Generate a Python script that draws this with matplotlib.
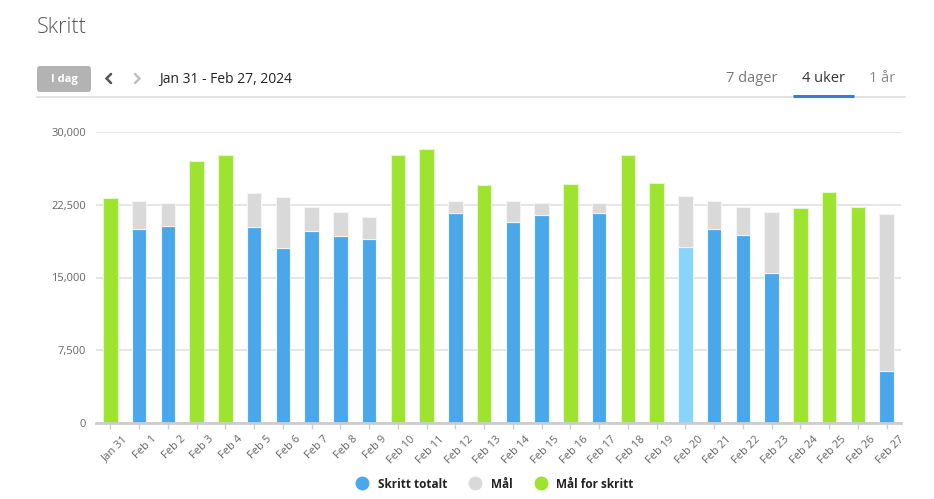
import matplotlib

matplotlib.use("Agg")
import matplotlib.pyplot as plt
import matplotlib.transforms as mtransforms
from matplotlib.lines import Line2D
from matplotlib.patches import FancyBboxPatch
import numpy as np

plt.rcParams["font.family"] = ["Open Sans", "DejaVu Sans"]

# --- data --------------------------------------------------------------------
days = ["Jan 31"] + [f"Feb {d}" for d in range(1, 28)]
steps = [23150, 20020, 20330, 27000, 27590, 20230, 17990, 19820, 19270, 18920,
         27630, 28280, 21640, 24530, 20750, 21470, 24630, 21610, 27660, 24770,
         18170, 19990, 19340, 15480, 22160, 23810, 22290, 5400]
# daily goal; None where the goal was reached (bar drawn green)
goal = [None, 22910, 22640, None, None, 23670, 23330, 22260, 21780, 21260,
        None, None, 22880, None, 22910, 22710, None, 22710, None, None,
        23430, 22910, 22290, 21740, None, None, None, 21500]
highlight = "Feb 20"
y_ticks = [0, 7500, 15000, 22500, 30000]

BLUE = "#4aa8ea"
BLUE_HL = "#88d4fc"
GRAY = "#d9d9d9"
GREEN = "#9de330"

W, H = 934, 499
fig = plt.figure(figsize=(W / 100, H / 100), dpi=100)

# chart area (pixel box: x 96..901, y 132..423)
ax = fig.add_axes([96 / W, 1 - 423 / H, (901 - 96) / W, (423 - 132) / H])

x = np.arange(len(days))
steps_a = np.array(steps, dtype=float)
met = np.array([g is None for g in goal])
goal_a = np.array([s if g is None else g for s, g in zip(steps, goal)], dtype=float)

blue_cols = [BLUE_HL if d == highlight else BLUE for d in days]
bw = 0.5
ax.bar(x[~met], steps_a[~met], width=bw, color=np.array(blue_cols)[~met],
       edgecolor="#eef6fd", linewidth=0.8, zorder=3)
ax.bar(x[~met], (goal_a - steps_a)[~met], bottom=steps_a[~met], width=bw,
       color=GRAY, edgecolor="#f4f4f4", linewidth=0.8, zorder=3)
ax.bar(x[met], steps_a[met], width=bw, color=GREEN,
       edgecolor="#e4f7c8", linewidth=0.8, zorder=3)

ax.set_xlim(-0.5, len(days) - 0.5)
ax.set_ylim(0, 30000)
ax.set_yticks(y_ticks)
ax.set_yticklabels([f"{v:,}" for v in y_ticks])
ax.grid(axis="y", color="#e0e0e0", linewidth=1.2, zorder=0)
for s in ["top", "right", "left"]:
    ax.spines[s].set_visible(False)
ax.spines["bottom"].set_color("#cccccc")
ax.spines["bottom"].set_linewidth(2)
ax.spines["bottom"].set_zorder(4)
ax.tick_params(axis="y", length=0, pad=7, labelsize=8, labelcolor="#666666")
ax.tick_params(axis="x", length=4, width=1, color="#cccccc", pad=3,
               labelsize=8, labelcolor="#666666")
ax.set_xticks(x)
ax.set_xticklabels(days, rotation=45, ha="right", rotation_mode="anchor")
offset = mtransforms.ScaledTranslation(12 / 100, -1 / 100, fig.dpi_scale_trans)
for lbl in ax.get_xticklabels():
    lbl.set_transform(lbl.get_transform() + offset)

# --- header (pixel overlay) ---------------------------------------------------
ov = fig.add_axes([0, 0, 1, 1], zorder=-1)
ov.set_xlim(0, W)
ov.set_ylim(H, 0)
ov.axis("off")

ov.text(37, 27, "Skritt", fontsize=15.5, color="#555555", fontweight="light",
        va="center", ha="left")
ov.add_patch(FancyBboxPatch((37, 66), 54, 26, boxstyle="round,pad=0,rounding_size=3",
                            facecolor="#b3b3b3", edgecolor="none"))
ov.text(64, 79, "I dag", fontsize=8, color="white", fontweight="bold",
        ha="center", va="center")
# prev / next chevrons
ov.plot([111, 106.5, 111], [74, 78.5, 83], color="#555555", linewidth=1.8,
        solid_capstyle="round", solid_joinstyle="miter")
ov.plot([135, 139.5, 135], [74, 78.5, 83], color="#c0c0c0", linewidth=1.8,
        solid_capstyle="round", solid_joinstyle="miter")
ov.text(159, 79, "Jan 31 - Feb 27, 2024", fontsize=10, color="#222222",
        ha="left", va="center")
ov.plot([37, 905], [96.5, 96.5], color="#dddddd", linewidth=1.2)

ov.text(752, 78, "7 dager", fontsize=10.5, color="#777777", ha="center", va="center")
ov.text(823, 78, "4 uker", fontsize=10.5, color="#333333", ha="center", va="center")
ov.text(882, 78, "1 år", fontsize=10.5, color="#888888", ha="center", va="center")
ov.plot([793, 854], [95.5, 95.5], color="#3a7bd5", linewidth=2.2,
        solid_capstyle="butt")

# --- legend -------------------------------------------------------------------
handles = [Line2D([], [], marker="o", linestyle="none", markersize=10,
                  markerfacecolor=c, markeredgecolor="none", label=l)
           for c, l in [(BLUE, "Skritt totalt"), (GRAY, "Mål"), (GREEN, "Mål for skritt")]]
leg = fig.legend(handles=handles, loc="center", bbox_to_anchor=(492 / W, 1 - 484 / H),
                 ncol=3, frameon=False, handletextpad=0.3, columnspacing=1.4,
                 prop={"size": 8.5, "weight": "bold"})
for t in leg.get_texts():
    t.set_color("#222222")

fig.savefig("out.png", dpi=100)
